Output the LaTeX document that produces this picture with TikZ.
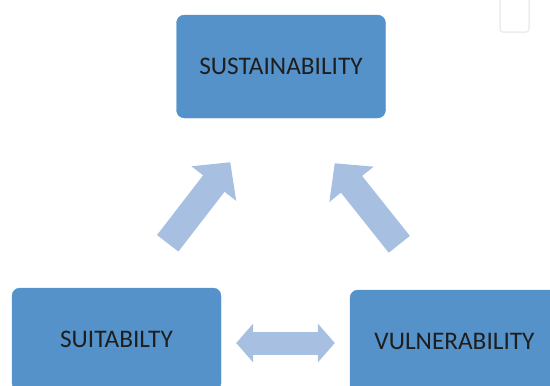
\documentclass[tikz,border=0pt]{standalone}
\usepackage{fontspec}
\setmainfont{Carlito}
\usepackage{tikz}
\usetikzlibrary{arrows.meta}
\definecolor{BoxBlue}{RGB}{85,146,201}
\definecolor{ArrowBlue}{RGB}{167,192,226}
\definecolor{TextDark}{RGB}{30,30,30}

\begin{document}
\begin{tikzpicture}[
    x=1pt, y=-1pt,
    box/.style={
        rectangle, rounded corners=8pt,
        draw=BoxBlue, fill=BoxBlue,
        minimum width=209pt, minimum height=103pt,
        text=TextDark, font=\fontsize{25.3}{30}\selectfont
    },
    arrow/.style={-{Triangle[length=27pt,width=55pt]}, line width=27pt, ArrowBlue},
    twoway/.style={{Triangle[length=17pt,width=38pt]}-{Triangle[length=17pt,width=38pt]}, line width=23pt, ArrowBlue}
]
\useasboundingbox (0,0) rectangle (550,386);
\clip (0,0) rectangle (550,386);

\node[box] (sust) at (281,66.5) {SUSTAINABILITY};
\node[box] (suit) at (116.5,339.5) {SUITABILTY};
\node[box] (vuln) at (454.5,341.5) {VULNERABILITY};

% empty frame in the corner
\draw[black!7, line width=1.5pt, rounded corners=3pt] (500,-6) rectangle (529,32);

\draw[arrow] ([shift={(-53.5,-44.5)}]suit.north east) -- ([shift={(54,44)}]sust.south west);
\draw[arrow] ([shift={(49.5,-45.5)}]vuln.north west) -- ([shift={(-51,45)}]sust.south east);
\draw[twoway] ([shift={(15,3.5)}]suit.east) -- ([shift={(-15,1.5)}]vuln.west);

\end{tikzpicture}
\end{document}
